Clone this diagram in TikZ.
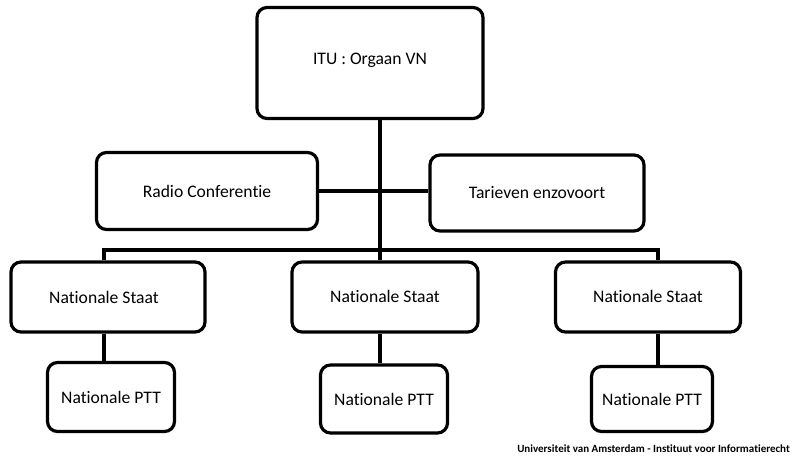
\documentclass[tikz,border=0pt]{standalone}
\usepackage{fontspec}
\setmainfont{Carlito}[Ligatures=NoCommon]
\begin{document}
\begin{tikzpicture}[x=1pt,y=-1pt,
  box/.style={draw=black, line width=3.2pt, rounded corners=10pt, fill=white,
    inner sep=0pt, font=\fontsize{17.6}{20}\selectfont, text=black},
  link/.style={draw=black, line width=3.2pt}]
\useasboundingbox (0,0) rectangle (793,458);
\fill[white] (0,0) rectangle (793,458);
% boxes
\node[box, minimum width=226, minimum height=111] (itu) at (370,63)
  {\raisebox{8pt}{ITU : Orgaan VN}\hspace{14pt}};
\node[box, minimum width=221, minimum height=77] (radio) at (207,191) {Radio Conferentie};
\node[box, minimum width=214, minimum height=76] (tarief) at (537,193) {Tarieven enzovoort};
\node[box, minimum width=194, minimum height=70] (staat1) at (108,297) {\hspace{-8pt}Nationale Staat};
\node[box, minimum width=186, minimum height=70] (staat2) at (385,297) {\raisebox{2pt}{Nationale Staat}};
\node[box, minimum width=185, minimum height=70] (staat3) at (648,297) {\raisebox{2pt}{Nationale Staat}};
\node[box, minimum width=127, minimum height=69] (ptt1) at (111,397) {Nationale PTT};
\node[box, minimum width=127, minimum height=68] (ptt2) at (384,399) {Nationale PTT};
\node[box, minimum width=121, minimum height=65] (ptt3) at (652,399) {Nationale PTT};
% connectors
\coordinate (trunk) at (380,250);
\coordinate (busL) at (104,250);
\coordinate (busR) at (658,250);
\draw[link] (itu.south -| trunk) -- (trunk);
\draw[link] (radio.east) -- (radio.east -| tarief.west);
\draw[link, line cap=rect] (busL) -- (busR);
\draw[link] (busL) -- (staat1.north -| busL);
\draw[link] (trunk) -- (staat2.north -| trunk);
\draw[link] (busR) -- (staat3.north -| busR);
\draw[link] (staat1.south -| busL) -- (ptt1.north -| busL);
\draw[link] (staat2.south -| trunk) -- (ptt2.north -| trunk);
\draw[link] (staat3.south -| busR) -- (ptt3.north -| busR);
% footer
\node[anchor=east, inner sep=0pt, font=\bfseries\fontsize{11}{13}\selectfont, text=black] (footer) at (790,449)
  {Universiteit van Amsterdam - Instituut voor Informatierecht};
\end{tikzpicture}
\end{document}
